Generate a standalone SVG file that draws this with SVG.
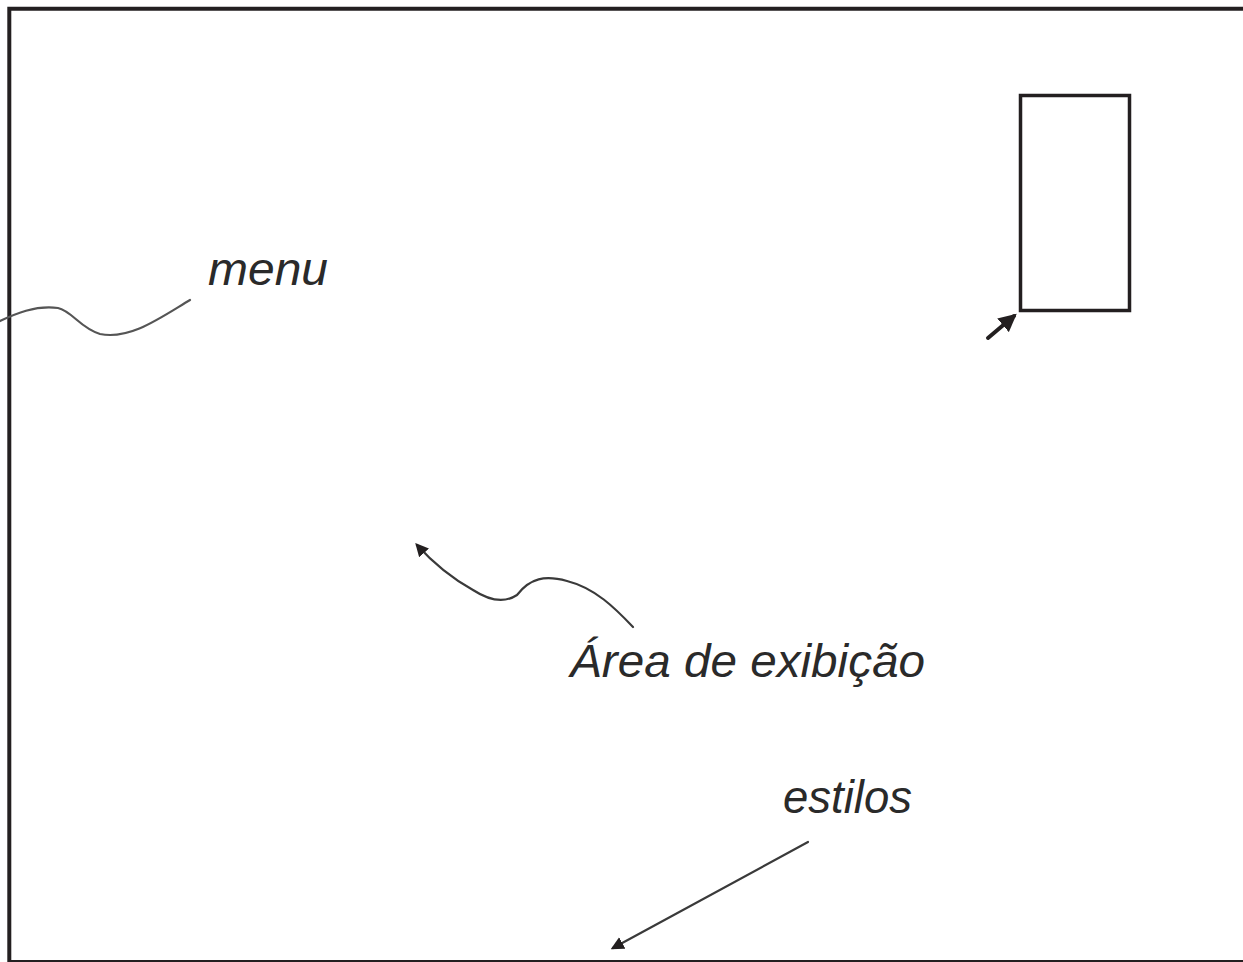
<svg xmlns="http://www.w3.org/2000/svg" width="1243" height="962" viewBox="0 0 1243 962">
<defs>
<style>
.lbl{font-family:"Liberation Sans",Arial,sans-serif;font-style:italic;font-size:47px;fill:#2a2a2a}
.con{fill:none;stroke:#3a3a3a;stroke-width:2.2;stroke-linecap:round}
</style>
<marker id="ah" viewBox="0 0 10 10" refX="8" refY="5" markerWidth="6" markerHeight="6" orient="auto" markerUnits="strokeWidth">
<path d="M0,0 L10,5 L0,10 z" fill="#231f20"/>
</marker>
<marker id="ahb" viewBox="0 0 10 10" refX="8" refY="5" markerWidth="4.5" markerHeight="4.5" orient="auto" markerUnits="strokeWidth">
<path d="M0,0 L10,5 L0,10 z" fill="#231f20"/>
</marker>
</defs>
<rect width="1243" height="962" fill="#ffffff"/>
<g id="frame" fill="none" stroke="#231f20">
<path d="M9.3,962 V8.7 H1243" stroke-width="4"/>
<line x1="9" y1="961" x2="1243" y2="961" stroke-width="2"/>
</g>
<g id="box">
<rect x="1020.5" y="95.5" width="109" height="215" fill="none" stroke="#231f20" stroke-width="3.5"/>
</g>
<g id="menu"><text class="lbl" x="208" y="285" textLength="120" lengthAdjust="spacingAndGlyphs">menu</text></g>
<g id="area"><text class="lbl" x="570" y="677" textLength="355" lengthAdjust="spacingAndGlyphs">Área de exibição</text></g>
<g id="estilos"><text class="lbl" x="783" y="813" textLength="129" lengthAdjust="spacingAndGlyphs">estilos</text></g>
<g id="connectors">
<path class="con" style="stroke:#555" d="M0,321 C15,314 35,305 58,308 C72,311 80,328 100,334 C130,340 160,318 190,300"/>
<path class="con" marker-end="url(#ah)" d="M633,627 C615,608 595,588 567,581 C545,575 530,578 517,595 C505,603 490,601 473,590 C455,580 435,565 417,545"/>
<path class="con" marker-end="url(#ah)" d="M808,842 L613,948"/>
<path class="con" style="stroke-width:4;stroke:#231f20" marker-end="url(#ahb)" d="M988,338 L1014,316"/>
</g>
</svg>
